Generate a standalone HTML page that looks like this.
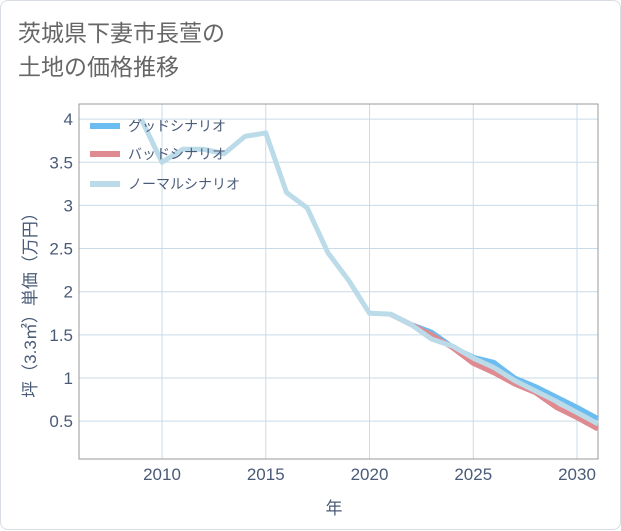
<!DOCTYPE html>
<html><head><meta charset="utf-8"><style>
body{margin:0;background:#fff;}
.card{position:absolute;left:0;top:0;width:619px;height:528px;border:1px solid #d8dde3;border-radius:8px;background:#fff;font-family:"Liberation Sans","Noto Sans CJK JP",sans-serif;}
.title{position:absolute;left:17px;top:15px;font-size:23px;line-height:34px;color:#666;}
</style></head><body>
<div class="card">
<div class="title">茨城県下妻市長萱の<br>土地の価格推移</div>
<svg id="c" width="621" height="530" style="position:absolute;left:0;top:0"></svg>
</div>
<script>
const years=[2009,2010,2011,2012,2013,2014,2015,2016,2017,2018,2019,2020,2021,2022,2023,2024,2025,2026,2027,2028,2029,2030,2031];
const normal=[4.0,3.5,3.65,3.65,3.6,3.8,3.84,3.15,2.97,2.45,2.13,1.75,1.74,1.62,1.45,1.37,1.23,1.12,0.97,0.85,0.73,0.6,0.47];
const fYears=[2021,2022,2023,2024,2025,2026,2027,2028,2029,2030,2031];
const good=[1.74,1.62,1.53,1.36,1.24,1.18,1.0,0.9,0.78,0.66,0.53];
const bad=[1.74,1.62,1.5,1.35,1.17,1.06,0.93,0.83,0.66,0.54,0.41];
const xTicks=[2010,2015,2020,2025,2030];
const yTicks=[0.5,1,1.5,2,2.5,3,3.5,4];
const L=78,R=597,T=103,B=458;
const x=v=>161+(v-2010)*20.75;
const y=v=>463.3-v*86.3;
const s=document.getElementById('c');const NS='http://www.w3.org/2000/svg';
function mk(t,a,p){const e=document.createElementNS(NS,t);for(const k in a)e.setAttribute(k,a[k]);(p||s).appendChild(e);return e;}
const grid=mk('g',{});


xTicks.forEach(v=>{mk('line',{x1:x(v),x2:x(v),y1:T,y2:B,stroke:'#c9dbe8','stroke-width':1},grid);
const t=mk('text',{x:x(v),y:479,'text-anchor':'middle','font-size':17,fill:'#4a5b78'});t.textContent=v;

});
yTicks.forEach(v=>{mk('line',{x1:L,x2:R,y1:y(v),y2:y(v),stroke:'#c9dbe8','stroke-width':1},grid);
const t=mk('text',{x:72,y:y(v)+6,'text-anchor':'end','font-size':17,fill:'#4a5b78'});t.textContent=v;

});
mk('rect',{x:L,y:T,width:R-L,height:B-T,fill:'none',stroke:'#999','stroke-width':1});
function line(xs,vs,c,n){const p=mk('polyline',{points:xs.map((yr,i)=>x(yr)+','+y(vs[i])).join(' '),fill:'none',stroke:c,'stroke-width':5,'stroke-linejoin':'round'});

}
line(fYears,good,'#6bbcf0','good-scenario-line');
line(fYears,bad,'#de8a90','bad-scenario-line');
line(years,normal,'#bcdbe9','normal-scenario-line');
const leg=[['グッドシナリオ','#6bbcf0',125],['バッドシナリオ','#de8a90',153],['ノーマルシナリオ','#bcdbe9',183]];
leg.forEach(l=>{const g=mk('g',{});


mk('rect',{x:89,y:l[2]-3,width:30,height:6,fill:l[1]},g);
const t=mk('text',{x:127,y:l[2]+5,'font-size':14,fill:'#4a5b78'},g);t.textContent=l[0];});
const xt=mk('text',{x:333,y:513,'text-anchor':'middle','font-size':17,fill:'#4a5b78'});xt.textContent='年';


const yt=mk('text',{x:0,y:0,'text-anchor':'middle','font-size':17,fill:'#4a5b78',transform:'translate(35,300) rotate(-90)'});yt.textContent='坪（3.3㎡）単価（万円）';


</script>
</body></html>
